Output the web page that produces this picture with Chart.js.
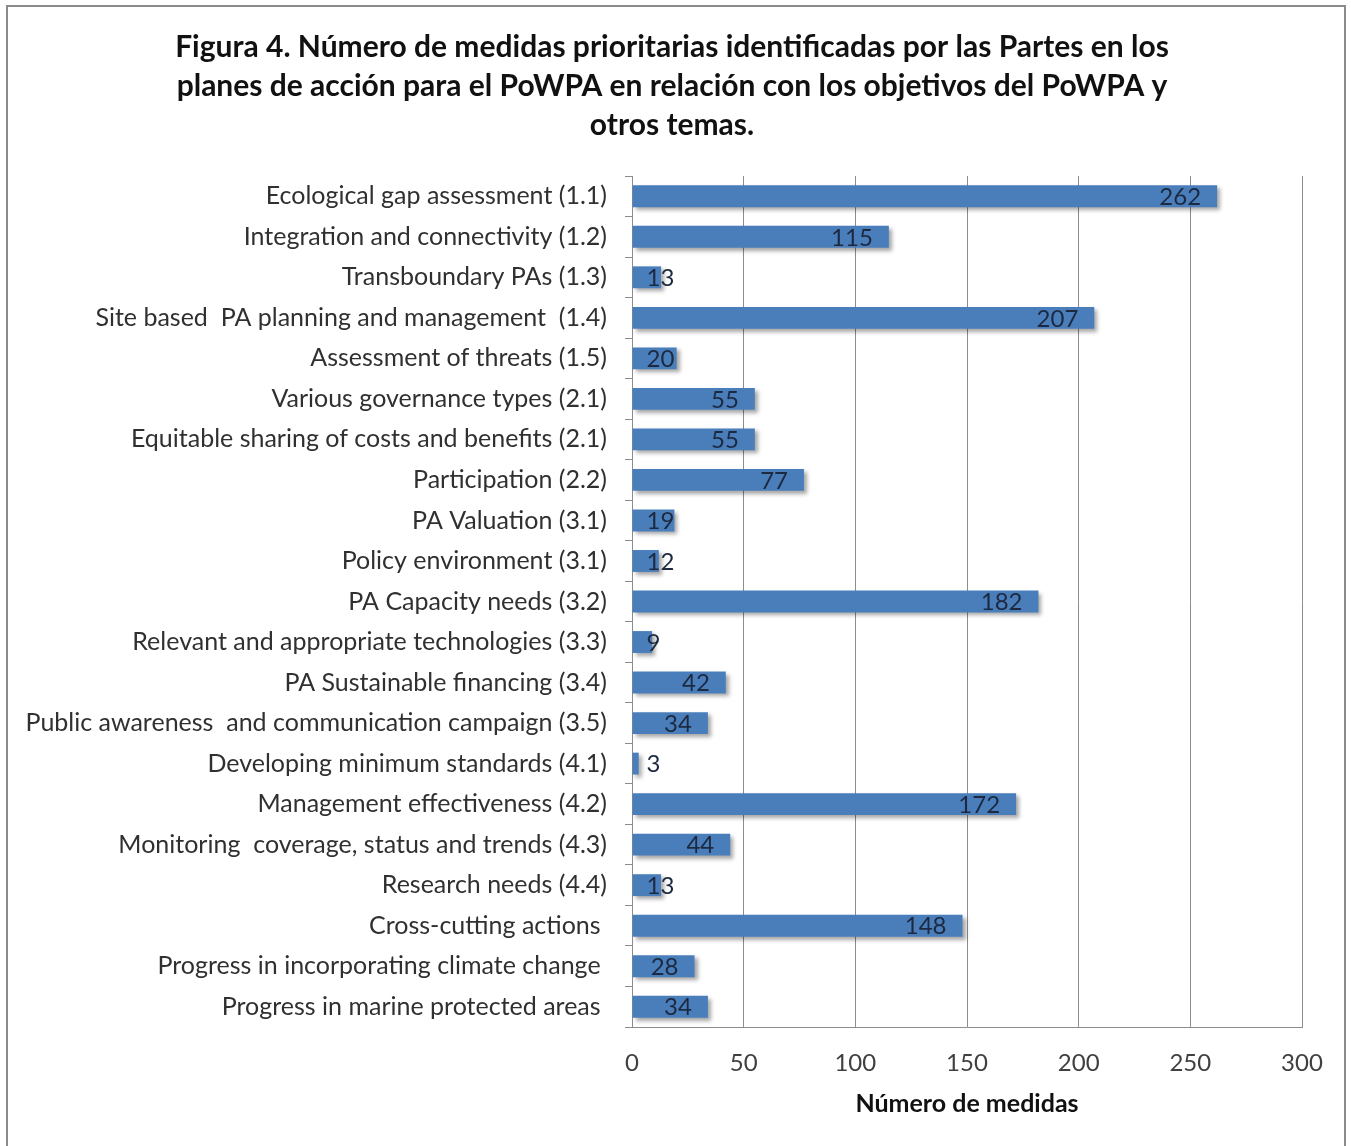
<!DOCTYPE html>
<html>
<head>
<meta charset="utf-8">
<script src="https://cdn.jsdelivr.net/npm/chart.js@4.4.1/dist/chart.umd.min.js"></script>
<style>
  html, body { margin: 0; padding: 0; background: #fff; }
  #wrap { position: relative; width: 1351px; height: 1146px; }
  #frame { position: absolute; left: 6px; top: 5px; width: 1340px; height: 1150px;
           border: 2px solid #8a8a8a; border-bottom: none; box-sizing: border-box; }
</style>
</head>
<body>
<div id="wrap">
  <canvas id="myChart" width="1351" height="1146"></canvas>
  <div id="frame"></div>
</div>
<script>
const categories = [
  "Ecological gap assessment (1.1)",
  "Integration and connectivity (1.2)",
  "Transboundary PAs (1.3)",
  "Site based  PA planning and management  (1.4)",
  "Assessment of threats (1.5)",
  "Various governance types (2.1)",
  "Equitable sharing of costs and benefits (2.1)",
  "Participation (2.2)",
  "PA Valuation (3.1)",
  "Policy environment (3.1)",
  "PA Capacity needs (3.2)",
  "Relevant and appropriate technologies (3.3)",
  "PA Sustainable financing (3.4)",
  "Public awareness  and communication campaign (3.5)",
  "Developing minimum standards (4.1)",
  "Management effectiveness (4.2)",
  "Monitoring  coverage, status and trends (4.3)",
  "Research needs (4.4)",
  "Cross-cutting actions ",
  "Progress in incorporating climate change ",
  "Progress in marine protected areas ",
];

const medidas = [262, 115, 13, 207, 20, 55, 55, 77, 19, 12, 182, 9, 42, 34, 3, 172, 44, 13, 148, 28, 34];

const xTicks = [0, 50, 100, 150, 200, 250, 300];

const titleLines = [
  "Figura 4. Número de medidas prioritarias identificadas por las Partes en los",
  "planes de acción para el PoWPA en relación con los objetivos del PoWPA y",
  "otros temas.",
];

const FONT = "Lato, 'Open Sans', sans-serif";

// soft shadow under the bars, like the Excel original
const barShadow = {
  id: "barShadow",
  afterLayout(chart) {
    // centre the title on the whole figure, not on the padded box
    if (chart.titleBlock) chart.titleBlock.left = 42;
  },
  beforeDatasetsDraw(chart) {
    const c = chart.ctx;
    c.save();
    c.shadowColor = "rgba(0,0,0,0.35)";
    c.shadowOffsetX = 3;
    c.shadowOffsetY = 3;
    c.shadowBlur = 4;
  },
  afterDatasetsDraw(chart) {
    chart.ctx.restore();
  },
};

// value labels: inside end, but never further left than the bar base
const valueLabels = {
  id: "valueLabels",
  afterDatasetsDraw(chart) {
    const c = chart.ctx;
    const meta = chart.getDatasetMeta(0);
    c.save();
    c.font = "24px " + FONT;
    c.fillStyle = "#1c2940";
    c.textBaseline = "middle";
    c.textAlign = "left";
    meta.data.forEach((bar, i) => {
      const txt = String(medidas[i]);
      const w = c.measureText(txt).width;
      const left = Math.max(bar.base + 14, bar.x - 16 - w);
      c.fillText(txt, left, bar.y + 1);
    });
    c.restore();
  },
};

const ctx = document.getElementById("myChart").getContext("2d");

new Chart(ctx, {
  type: "bar",
  data: {
    labels: categories,
    datasets: [
      {
        label: "Número de medidas",
        data: medidas,
        backgroundColor: "#4a7ebb",
        borderWidth: 0,
        categoryPercentage: 1,
        barPercentage: 0.54,
      },
    ],
  },
  options: {
    indexAxis: "y",
    responsive: false,
    animation: false,
    layout: {
      padding: { top: 28, right: 49, bottom: 27, left: 0 },
    },
    scales: {
      x: {
        min: 0,
        max: 300,
        afterBuildTicks(scale) {
          scale.ticks = xTicks.map((v) => ({ value: v }));
        },
        afterFit(scale) {
          scale.height = 92;
        },
        grid: {
          color: "#8c8c8c",
          lineWidth: 1,
          drawTicks: false,
        },
        border: { color: "#8c8c8c", width: 1 },
        ticks: {
          padding: 22,
          color: "#404040",
          font: { family: FONT, size: 24 },
        },
        title: {
          display: true,
          text: "Número de medidas",
          color: "#111",
          padding: { top: 4, bottom: 0 },
          font: { family: FONT, size: 25, weight: "bold" },
        },
      },
      y: {
        afterFit(scale) {
          scale.width = 632;
        },
        grid: {
          drawOnChartArea: false,
          tickLength: 7,
          color: "#8c8c8c",
        },
        border: { color: "#8c8c8c", width: 1 },
        ticks: {
          padding: 18,
          autoSkip: false,
          color: "#303030",
          font: { family: FONT, size: 25 },
        },
      },
    },
    plugins: {
      legend: { display: false },
      tooltip: { enabled: false },
      title: {
        display: true,
        text: titleLines,
        color: "#111",
        padding: { top: 0, bottom: 31 },
        font: { family: FONT, size: 30, weight: "bold", lineHeight: 1.3 },
      },
    },
  },
  plugins: [barShadow, valueLabels],
});
</script>
</body>
</html>
